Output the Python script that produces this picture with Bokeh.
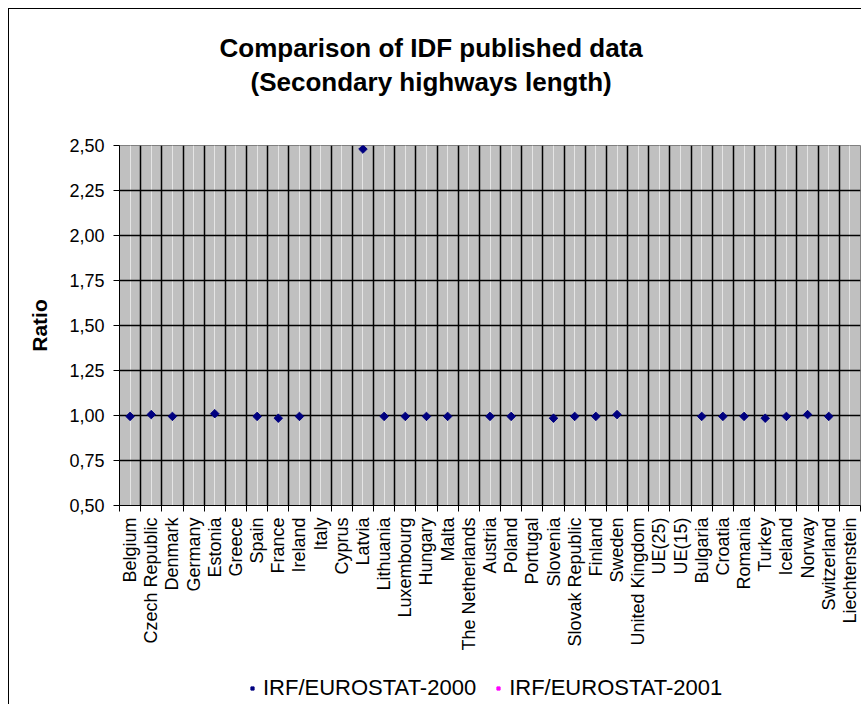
import math
from bokeh.plotting import figure
from bokeh.layouts import column
from bokeh.models import (FactorRange, Range1d, FixedTicker, CustomJSTickFormatter,
                          LinearAxis, CategoricalAxis, Grid, Legend, LegendItem,
                          Title, ColumnDataSource)
from bokeh.embed import file_html
from bokeh.resources import INLINE

title_lines = ["Comparison of IDF published data", "(Secondary highways length)"]
y_label = "Ratio"
countries = ["Belgium", "Czech Republic", "Denmark", "Germany", "Estonia", "Greece",
             "Spain", "France", "Ireland", "Italy", "Cyprus", "Latvia", "Lithuania",
             "Luxembourg", "Hungary", "Malta", "The Netherlands", "Austria", "Poland",
             "Portugal", "Slovenia", "Slovak Republic", "Finland", "Sweden",
             "United Kingdom", "UE(25)", "UE(15)", "Bulgaria", "Croatia", "Romania",
             "Turkey", "Iceland", "Norway", "Switzerland", "Liechtenstein"]
NA = float("nan")
ratio_2000 = [0.995, 1.005, 0.995, NA, 1.01, NA, 0.995, 0.985, 0.995, NA, NA, 2.48,
              0.995, 0.995, 0.995, 0.995, NA, 0.995, 0.995, NA, 0.985, 0.995, 0.995,
              1.005, NA, NA, NA, 0.995, 0.995, 0.995, 0.985, 0.995, 1.005, 0.995, NA]
ratio_2001 = [NA] * len(countries)
series_names = ["IRF/EUROSTAT-2000", "IRF/EUROSTAT-2001"]
y_ticks = [0.50, 0.75, 1.00, 1.25, 1.50, 1.75, 2.00, 2.25, 2.50]

FONT = "Liberation Sans"
boundaries = list(range(len(countries) + 1))
C2000, C2001 = "#000080", "#FF00FF"

p = figure(width=852, height=661, output_backend="svg", toolbar_location=None,
           x_range=FactorRange(factors=countries),
           y_range=Range1d(y_ticks[0], y_ticks[-1]),
           x_axis_location=None,
           min_border_left=110, min_border_right=1, min_border_top=136,
           min_border_bottom=165)
p.background_fill_color = "#C0C0C0"
p.border_fill_color = "white"
p.outline_line_color = "#808080"
p.outline_line_width = 1

# title: spacer nearest the plot area, then second line, first line outermost
p.title.text = title_lines[0]
p.title.align = "left"
p.title.offset = 100
p.title.text_font = FONT
p.title.text_font_size = "26px"
p.title.text_font_style = "bold"
p.title.text_color = "black"
p.title.standoff = 2
p.add_layout(Title(text=" ", text_font_size="1px", standoff=45), "above")
p.add_layout(Title(text=title_lines[1], align="left", offset=131, text_font=FONT,
                   text_font_size="26px", text_font_style="bold", text_color="black",
                   standoff=2), "above")

# tick-only axis at category boundaries
tick_axis = LinearAxis(ticker=FixedTicker(ticks=boundaries),
                       major_tick_out=6, major_tick_in=0, major_tick_line_color="black",
                       minor_tick_line_color=None, axis_line_color="black",
                       major_label_text_font_size="0px", major_label_standoff=0,
                       major_label_overrides={i: "" for i in boundaries})
p.add_layout(tick_axis, "below")

cat_axis = CategoricalAxis(major_tick_line_color=None, major_tick_out=0, major_tick_in=0,
                           axis_line_color=None, major_label_orientation=math.pi / 2,
                           major_label_text_font_size="18px", major_label_text_font=FONT,
                           major_label_text_color="black", major_label_standoff=6)
p.add_layout(cat_axis, "below")

# y axis
yax = p.yaxis[0]
yax.ticker = FixedTicker(ticks=y_ticks)
yax.formatter = CustomJSTickFormatter(code="return tick.toFixed(2).replace('.', ',');")
yax.major_tick_out = 6
yax.major_tick_in = 0
yax.minor_tick_line_color = None
yax.axis_line_color = "black"
yax.major_tick_line_color = "black"
yax.major_label_text_font = FONT
yax.major_label_text_font_size = "18px"
yax.major_label_text_color = "black"
yax.major_label_standoff = 9
yax.axis_label = y_label
yax.axis_label_text_font = FONT
yax.axis_label_text_font_size = "21px"
yax.axis_label_text_font_style = "bold"
yax.axis_label_text_color = "black"
yax.axis_label_standoff = 15

p.ygrid.ticker = FixedTicker(ticks=y_ticks[:-1])
p.ygrid.grid_line_color = "black"
p.ygrid.grid_line_width = 1.5

p.add_layout(Grid(dimension=0, ticker=FixedTicker(ticks=boundaries[1:]),
                  grid_line_color="black", grid_line_width=1.5))

src = ColumnDataSource(dict(x=countries, y1=ratio_2000, y2=ratio_2001))
p.scatter("x", "y2", source=src, marker="square", size=7,
          fill_color=C2001, line_color=C2001)
p.scatter("x", "y1", source=src, marker="square", angle=math.pi / 4, size=6,
          fill_color=C2000, line_color=C2000)

# legend strip below the chart (keys only, no data drawn)
pl = figure(width=852, height=34, output_backend="svg", toolbar_location=None,
            x_range=Range1d(0, 1), y_range=Range1d(0, 1),
            x_axis_location=None, y_axis_location=None,
            min_border=0, min_border_left=0, min_border_right=0,
            min_border_top=0, min_border_bottom=0)
pl.outline_line_color = None
pl.grid.visible = False
pl.background_fill_color = "white"
pl.border_fill_color = "white"
key_src = ColumnDataSource(dict(x=[NA], y=[NA]))
k1 = pl.scatter("x", "y", source=key_src, marker="square", angle=math.pi / 4, size=6,
                fill_color=C2000, line_color=C2000)
k2 = pl.scatter("x", "y", source=key_src, marker="square", size=7,
                fill_color=C2001, line_color=C2001)
legend = Legend(items=[LegendItem(label=series_names[0], renderers=[k1]),
                       LegendItem(label=series_names[1], renderers=[k2])],
                orientation="horizontal", location=(129, 3),
                label_text_font=FONT, label_text_font_size="22px",
                label_text_color="black", border_line_color=None,
                background_fill_alpha=0, glyph_width=8, glyph_height=10,
                label_standoff=7, spacing=18, padding=0, margin=0)
pl.add_layout(legend, "center")

layout = column(p, pl, spacing=0,
                styles={"margin-left": "8px", "margin-top": "8px",
                        "border-left": "1px solid black", "border-top": "1px solid black"})

open("out.html", "w").write(file_html(layout, INLINE))
